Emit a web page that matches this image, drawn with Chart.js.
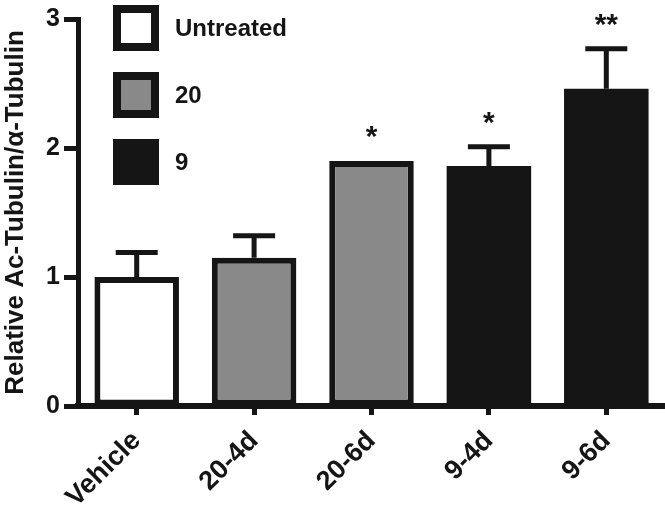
<!DOCTYPE html>
<html>
<head>
<meta charset="utf-8">
<script src="https://cdn.jsdelivr.net/npm/chart.js@4/dist/chart.umd.min.js"></script>
<style>
  html, body { margin: 0; padding: 0; background: #fff; }
  #wrap { width: 665px; height: 511px; }
</style>
</head>
<body>
<div id="wrap"><canvas id="chart" width="665" height="511"></canvas></div>
<script>
const categories = ["Vehicle", "20-4d", "20-6d", "9-4d", "9-6d"]
const values = [1.0, 1.15, 1.9, 1.86, 2.46]
const errors = [0.19, 0.17, 0, 0.15, 0.31]
const stars = ["", "", "*", "*", "**"]
const groups = [0, 1, 1, 2, 2]

const legendLabels = ["Untreated", "20", "9"]
const legendColors = ["#ffffff", "#898989", "#151515"]
const yTicks = [0, 1, 2, 3]

const INK = "#151515"
const FONT = "'Liberation Sans', Arial, sans-serif"

// error bars, significance stars and the boxed legend
const extras = {
  id: "extras",
  afterDatasetsDraw(chart) {
    const { ctx, scales: { x, y } } = chart
    ctx.save()
    ctx.strokeStyle = INK
    ctx.fillStyle = INK
    ctx.lineWidth = 5
    values.forEach((v, i) => {
      const cx = x.getPixelForValue(i)
      const top = y.getPixelForValue(v + errors[i])
      if (errors[i] > 0) {
        ctx.beginPath()
        ctx.moveTo(cx, y.getPixelForValue(v))
        ctx.lineTo(cx, top)
        ctx.moveTo(cx - 21, top)
        ctx.lineTo(cx + 21, top)
        ctx.stroke()
      }
      if (stars[i]) {
        ctx.font = `bold 30px ${FONT}`
        ctx.textAlign = "center"
        ctx.textBaseline = "middle"
        ctx.fillText(stars[i], cx, top - 23)
      }
    })

    legendLabels.forEach((label, i) => {
      const bx = 113, by = 5 + i * 67, s = 46
      ctx.fillStyle = INK
      ctx.fillRect(bx, by, s, s)
      if (i < 2) {
        ctx.fillStyle = legendColors[i]
        ctx.fillRect(bx + 8, by + 8, s - 16, s - 16)
      }
      ctx.fillStyle = INK
      ctx.font = `bold 24px ${FONT}`
      ctx.textAlign = "left"
      ctx.textBaseline = "middle"
      ctx.fillText(label, bx + 62, by + s / 2 + 1)
    })
    ctx.restore()
  }
}

new Chart(document.getElementById("chart"), {
  type: "bar",
  data: {
    labels: categories,
    datasets: [{
      data: values,
      backgroundColor: groups.map((g) => legendColors[g]),
      borderColor: INK,
      borderWidth: groups.map((g) => g === 2 ? 0 : 6),
      borderSkipped: false,
      categoryPercentage: 1,
      barPercentage: 0.72
    }]
  },
  options: {
    responsive: false,
    animation: false,
    layout: { padding: { top: 13, right: 0, left: 0, bottom: 0 } },
    plugins: {
      legend: { display: false },
      tooltip: { enabled: false }
    },
    scales: {
      x: {
        grid: { display: true, drawOnChartArea: false, drawTicks: true, tickLength: 9, tickWidth: 5, tickColor: INK, offset: false },
        border: { display: true, color: INK, width: 6 },
        ticks: {
          color: INK,
          font: { family: FONT, size: 27, weight: "bold" },
          minRotation: 45,
          maxRotation: 45,
          padding: 10
        },
        afterFit: (s) => { s.height = 105 }
      },
      y: {
        min: 0,
        max: 3,
        afterBuildTicks: (s) => { s.ticks = yTicks.map((v) => ({ value: v })) },
        grid: { display: true, drawOnChartArea: false, drawTicks: true, tickLength: 14, tickWidth: 5, tickColor: INK },
        border: { display: true, color: INK, width: 5 },
        ticks: {
          color: INK,
          font: { family: FONT, size: 25, weight: "bold" },
          padding: 4
        },
        title: {
          display: true,
          text: "Relative Ac-Tubulin/α-Tubulin",
          color: INK,
          font: { family: FONT, size: 26, weight: "bold" },
          padding: 0
        },
        afterFit: (s) => { s.width = 78 }
      }
    }
  },
  plugins: [extras]
})
</script>
</body>
</html>
